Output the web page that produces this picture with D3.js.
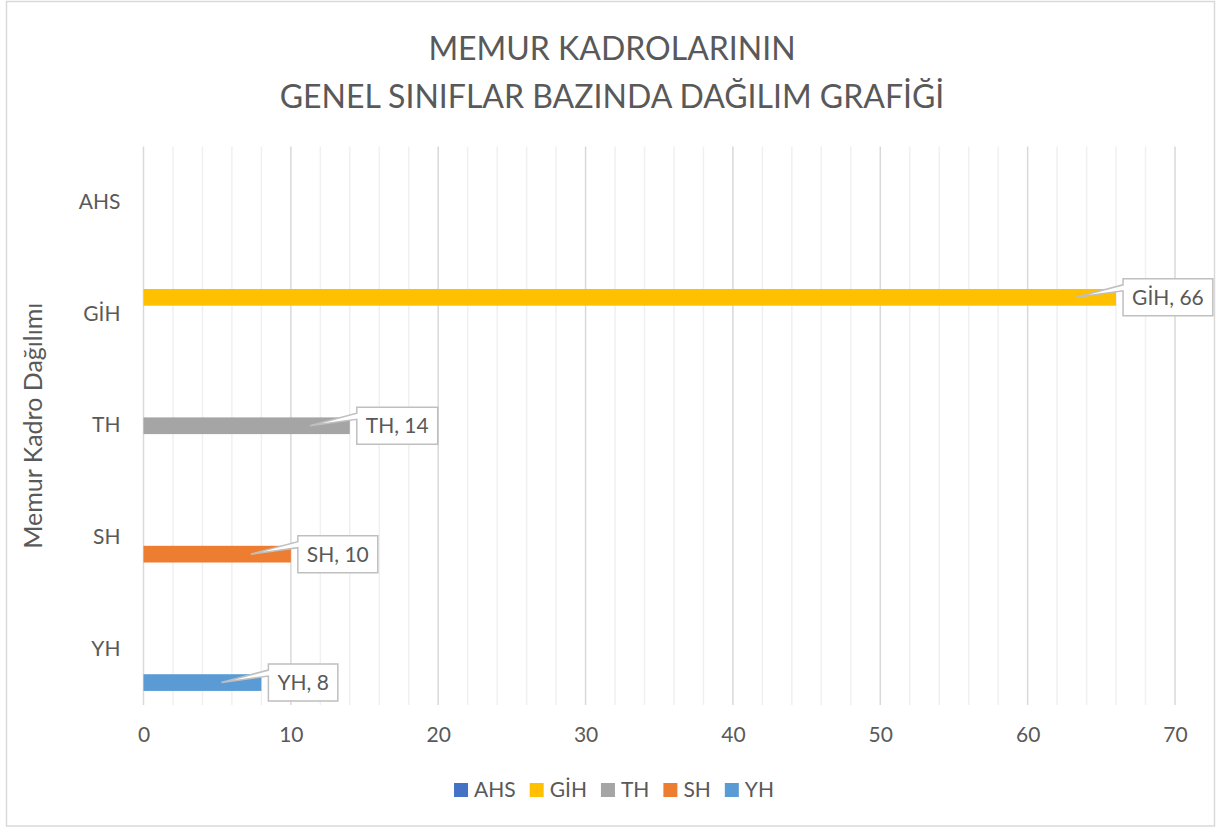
<!DOCTYPE html>
<html>
<head>
<meta charset="utf-8">
<script src="https://cdn.jsdelivr.net/npm/d3@7"></script>
<style>
  body { margin: 0; background: #fff; }
  text { font-family: Lato, "Noto Sans", sans-serif; fill: #595959; }
</style>
</head>
<body>
<div id="chart"></div>
<script>
// categories top to bottom, series in legend order
const categories = ['AHS', 'GİH', 'TH', 'SH', 'YH'];
const series = ['AHS', 'GİH', 'TH', 'SH', 'YH'];
const values = [0, 66, 14, 10, 8];
const colors = ['#4472C4', '#FFC000', '#A5A5A5', '#ED7D31', '#5B9BD5'];
const xTicks = [0, 10, 20, 30, 40, 50, 60, 70];
const titleLines = ['MEMUR KADROLARININ', 'GENEL SINIFLAR BAZINDA DAĞILIM GRAFİĞİ'];
const yTitle = 'Memur Kadro Dağılımı';

const W = 1217, H = 828;
const plot = { left: 143.5, right: 1175, top: 146.5, bottom: 705 };

const svg = d3.select('#chart').append('svg')
  .attr('width', W)
  .attr('height', H);

svg.append('rect')
  .attr('x', 6.5).attr('y', 1.5)
  .attr('width', 1208).attr('height', 824.5)
  .attr('fill', '#fff')
  .attr('stroke', '#d9d9d9')
  .attr('stroke-width', 1.5);

const x = d3.scaleLinear().domain([0, 70]).range([plot.left, plot.right]);
const y0 = d3.scaleBand().domain(categories).range([plot.top, plot.bottom]);
const bw = y0.bandwidth();
const groupH = bw * 0.748;
const y1 = d3.scaleBand().domain(series).range([(bw - groupH) / 2, (bw + groupH) / 2]);

// gridlines: minor every 2, major every 10
const minor = d3.range(0, 71, 2).filter(d => d % 10 !== 0);
svg.append('g').selectAll('line')
  .data(minor).enter().append('line')
  .attr('x1', d => x(d)).attr('x2', d => x(d))
  .attr('y1', plot.top).attr('y2', plot.bottom)
  .attr('stroke', '#f0f0f0').attr('stroke-width', 1.5);

svg.append('g').selectAll('line')
  .data(xTicks).enter().append('line')
  .attr('x1', d => x(d)).attr('x2', d => x(d))
  .attr('y1', plot.top).attr('y2', plot.bottom)
  .attr('stroke', '#d9d9d9').attr('stroke-width', 1.5);

// x tick labels
const xAxis = svg.append('g')
  .attr('transform', `translate(0,${plot.bottom})`)
  .call(d3.axisBottom(x).tickValues(xTicks).tickSize(0).tickPadding(22));
xAxis.select('.domain').remove();
xAxis.selectAll('text')
  .style('font-size', '21px')
  .attr('fill', '#595959');

// category labels
const yAxis = svg.append('g')
  .attr('transform', `translate(${plot.left},0)`)
  .call(d3.axisLeft(y0).tickSize(0).tickPadding(23));
yAxis.select('.domain').remove();
yAxis.selectAll('text')
  .style('font-size', '21px')
  .attr('fill', '#595959');

// bars
const rows = categories.map((c, i) => ({ cat: c, ser: series[i], value: values[i], color: colors[i] }));

svg.append('g').selectAll('rect')
  .data(rows).enter().append('rect')
  .attr('x', x(0))
  .attr('y', d => y0(d.cat) + y1(d.ser))
  .attr('width', d => x(d.value) - x(0))
  .attr('height', y1.bandwidth())
  .attr('fill', d => d.color);

// callout labels
const callouts = svg.append('g');
rows.filter(d => d.value > 0).forEach(d => {
  const cy = y0(d.cat) + y1(d.ser) + y1.bandwidth() / 2;
  const bx = x(d.value) + 7;
  const bh = 37;
  const by = cy - bh / 2;
  const g = callouts.append('g');
  const path = g.append('path');
  const t = g.append('text')
    .attr('x', bx + 9)
    .attr('y', cy)
    .attr('dy', '0.35em')
    .style('font-size', '21px')
    .text(`${d.ser}, ${d.value}`);
  const bw2 = t.node().getComputedTextLength() + 18;
  const tx = x(d.value) - 40;
  const p = d3.path();
  p.moveTo(bx, by);
  p.lineTo(bx + bw2, by);
  p.lineTo(bx + bw2, by + bh);
  p.lineTo(bx, by + bh);
  p.lineTo(bx, by + 12);
  p.lineTo(tx, cy);
  p.lineTo(bx, by + 6);
  p.closePath();
  path.attr('d', p.toString())
    .attr('fill', '#fff')
    .attr('stroke', '#bfbfbf')
    .attr('stroke-width', 1.5);
});

// title
svg.append('text')
  .attr('x', 612).attr('y', 60)
  .attr('text-anchor', 'middle')
  .style('font-size', '32px')
  .text(titleLines[0]);
svg.append('text')
  .attr('x', 612).attr('y', 108)
  .attr('text-anchor', 'middle')
  .style('font-size', '32px')
  .text(titleLines[1]);

// y axis title
svg.append('text')
  .attr('transform', `translate(42,${(plot.top + plot.bottom) / 2}) rotate(-90)`)
  .attr('text-anchor', 'middle')
  .style('font-size', '25px')
  .text(yTitle);

// legend
const legend = svg.append('g');
let lx = 0;
series.forEach((s, i) => {
  const item = legend.append('g').attr('transform', `translate(${lx},0)`);
  item.append('rect')
    .attr('x', 0).attr('y', -7)
    .attr('width', 14).attr('height', 14)
    .attr('fill', colors[i]);
  const t = item.append('text')
    .attr('x', 20).attr('y', 0).attr('dy', '0.35em')
    .style('font-size', '21px')
    .text(s);
  lx += 20 + t.node().getComputedTextLength() + 14;
});
lx -= 14;
legend.attr('transform', `translate(${614 - lx / 2},790)`);
</script>
</body>
</html>
